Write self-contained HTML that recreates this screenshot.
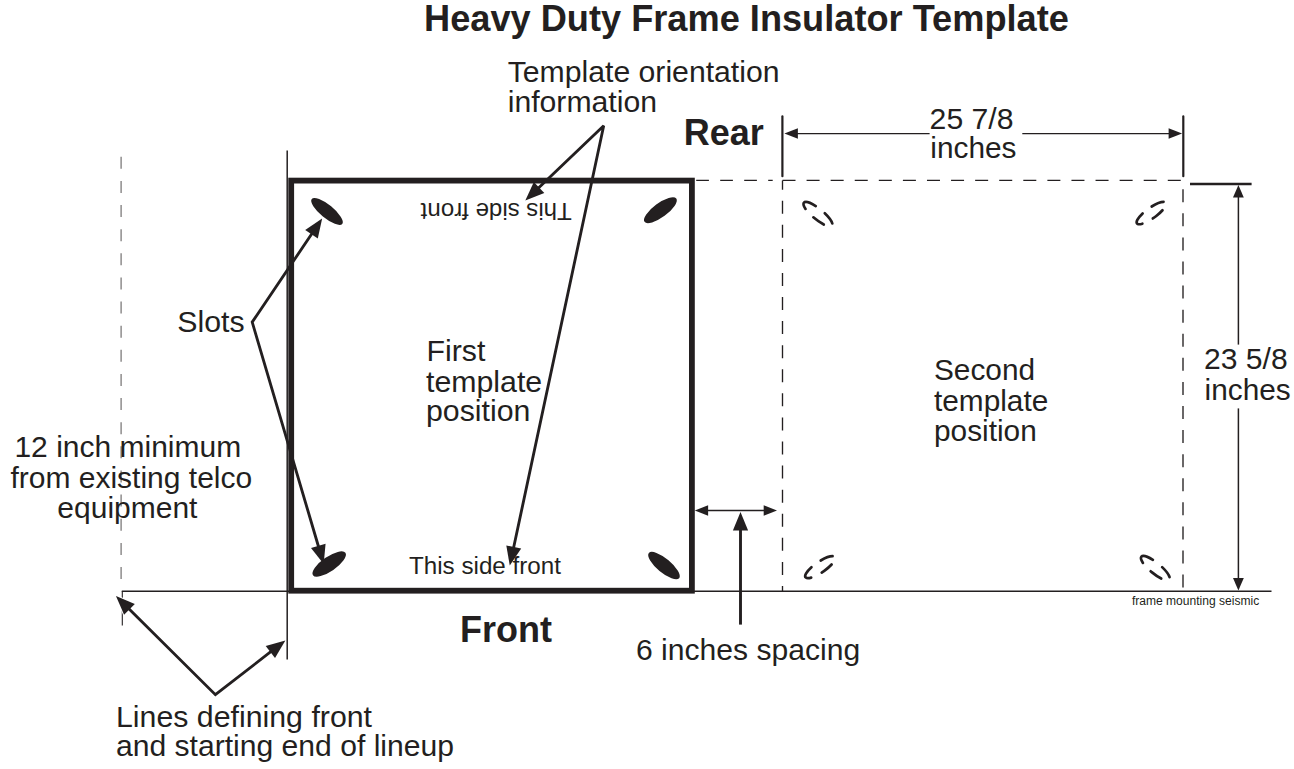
<!DOCTYPE html>
<html><head><meta charset="utf-8"><style>
html,body{margin:0;padding:0;background:#fff;}
svg{display:block;}
text{font-family:"Liberation Sans",sans-serif;}
</style></head><body>
<svg width="1294" height="769" viewBox="0 0 1294 769">
<rect width="1294" height="769" fill="#fff"/>
<line x1="121.1" y1="156.8" x2="121.1" y2="591" stroke="#7d7b7b" stroke-width="1.3" stroke-dasharray="12 12.13"/>
<line x1="122.3" y1="591" x2="122.3" y2="625.5" stroke="#231f20" stroke-width="1.1" />
<line x1="287.2" y1="150.4" x2="287.2" y2="659.6" stroke="#231f20" stroke-width="1.5" />
<line x1="121.8" y1="591.3" x2="1271.5" y2="591.3" stroke="#231f20" stroke-width="1.5" />
<rect x="291.2" y="180.6" width="400.7" height="410.1" fill="none" stroke="#231f20" stroke-width="5.8"/>
<line x1="696.2" y1="180.4" x2="772.7" y2="180.4" stroke="#231f20" stroke-width="1.3" stroke-dasharray="12.7 11.3"/>
<path d="M782.5,180.4 H1183 V591" fill="none" stroke="#231f20" stroke-width="1.35" stroke-dasharray="13 11.08"/>
<path d="M782.5,591 V180.4" fill="none" stroke="#231f20" stroke-width="1.35" stroke-dasharray="13 11.08" stroke-dashoffset="8"/>
<line x1="782.4" y1="116.4" x2="782.4" y2="176.2" stroke="#231f20" stroke-width="2.2" stroke-linecap="round"/>
<line x1="1183.3" y1="116.4" x2="1183.3" y2="176.2" stroke="#231f20" stroke-width="2.2" stroke-linecap="round"/>
<line x1="790" y1="133.6" x2="929.6" y2="133.6" stroke="#231f20" stroke-width="1.3" />
<line x1="1022.3" y1="133.6" x2="1175" y2="133.6" stroke="#231f20" stroke-width="1.3" />
<polygon points="784.40,133.60 797.90,128.35 797.90,138.85" fill="#231f20"/>
<polygon points="1182.10,133.60 1168.60,138.85 1168.60,128.35" fill="#231f20"/>
<line x1="1190" y1="183.9" x2="1251.6" y2="183.9" stroke="#231f20" stroke-width="2.5" />
<line x1="1238.4" y1="190" x2="1238.4" y2="344.6" stroke="#231f20" stroke-width="1.5" />
<line x1="1238.4" y1="408.4" x2="1238.4" y2="585" stroke="#231f20" stroke-width="1.5" />
<polygon points="1238.40,185.10 1243.80,197.60 1233.00,197.60" fill="#231f20"/>
<polygon points="1238.40,590.60 1233.00,578.10 1243.80,578.10" fill="#231f20"/>
<line x1="700" y1="510.5" x2="772" y2="510.5" stroke="#231f20" stroke-width="1.5" />
<polygon points="694.80,510.50 708.10,505.30 708.10,515.70" fill="#231f20"/>
<polygon points="777.00,510.50 763.70,515.70 763.70,505.30" fill="#231f20"/>
<line x1="740.5" y1="525" x2="740.5" y2="624.6" stroke="#231f20" stroke-width="2.9" />
<polygon points="740.50,511.90 748.10,530.40 732.90,530.40" fill="#231f20"/>
<path d="M536.90,189.47 L603.70,125.80 L513.12,549.94" fill="none" stroke="#231f20" stroke-width="2.85" stroke-linejoin="miter" stroke-miterlimit="3"/><polygon points="525.32,200.51 533.83,181.90 544.31,192.91" fill="#231f20"/><polygon points="509.77,565.59 506.31,545.42 521.18,548.59" fill="#231f20"/>
<path d="M313.18,231.76 L252.20,322.10 L319.14,548.73" fill="none" stroke="#231f20" stroke-width="2.85" stroke-linejoin="miter" stroke-miterlimit="3"/><polygon points="322.14,218.50 317.80,238.50 305.21,230.00" fill="#231f20"/><polygon points="323.67,564.08 311.00,548.01 325.58,543.70" fill="#231f20"/>
<polygon points="115.97,595.98 134.81,603.97 124.10,614.76" fill="#fff" stroke="#fff" stroke-width="2" stroke-linejoin="miter"/><path d="M127.33,607.25 L215.40,694.70 L272.73,650.24" fill="none" stroke="#231f20" stroke-width="2.85" stroke-linejoin="miter" stroke-miterlimit="3"/><polygon points="115.97,595.98 134.81,603.97 124.10,614.76" fill="#231f20"/><polygon points="285.37,640.43 275.02,658.08 265.70,646.07" fill="#231f20"/>
<ellipse cx="327" cy="211.4" rx="19.7" ry="6.5" transform="rotate(39.3 327 211.4)" fill="#231f20"/>
<ellipse cx="660.4" cy="210.2" rx="19.7" ry="7.0" transform="rotate(-36.3 660.4 210.2)" fill="#231f20"/>
<ellipse cx="329.2" cy="564.0" rx="19.7" ry="7.2" transform="rotate(-34.5 329.2 564.0)" fill="#231f20"/>
<ellipse cx="664" cy="565.6" rx="19.7" ry="7.0" transform="rotate(39.8 664 565.6)" fill="#231f20"/>
<path d="M804.21,202.28 A18.29,5.34 39.46 0 1 831.69,226.20 A18.29,5.34 39.46 0 1 804.21,202.28" fill="none" stroke="#231f20" stroke-width="2.7" stroke-linecap="round" stroke-dasharray="12.6 11.4"/>
<path d="M1137.45,223.89 A17.79,5.38 -35.62 0 1 1165.31,202.21 A17.79,5.38 -35.62 0 1 1137.45,223.89" fill="none" stroke="#231f20" stroke-width="2.7" stroke-linecap="round" stroke-dasharray="12.6 11.4"/>
<path d="M805.83,577.52 A17.83,5.37 -34.24 0 1 834.63,556.72 A17.83,5.37 -34.24 0 1 805.83,577.52" fill="none" stroke="#231f20" stroke-width="2.7" stroke-linecap="round" stroke-dasharray="12.6 11.4"/>
<path d="M1141.41,556.69 A18.11,5.34 39.35 0 1 1169.29,579.81 A18.11,5.34 39.35 0 1 1141.41,556.69" fill="none" stroke="#231f20" stroke-width="2.7" stroke-linecap="round" stroke-dasharray="12.6 11.4"/>
<text x="424" y="30.5" font-size="36.2" font-weight="bold" text-anchor="start" fill="#231f20" >Heavy Duty Frame Insulator Template</text>
<text x="507.7" y="81.8" font-size="30.2" text-anchor="start" fill="#231f20" >Template orientation</text>
<text x="507.7" y="112.1" font-size="30.2" text-anchor="start" fill="#231f20" >information</text>
<text x="683.7" y="145.2" font-size="36" font-weight="bold" text-anchor="start" fill="#231f20" >Rear</text>
<text x="929.6" y="128.6" font-size="30.2" text-anchor="start" fill="#231f20" >25 7/8</text>
<text x="930.3" y="158.4" font-size="29.8" text-anchor="start" fill="#231f20" >inches</text>
<text x="1204" y="369.1" font-size="30.1" text-anchor="start" fill="#231f20" >23 5/8</text>
<text x="1204.6" y="399.6" font-size="29.8" text-anchor="start" fill="#231f20" >inches</text>
<text x="1131.9" y="604.8" font-size="12.07" text-anchor="start" fill="#231f20" >frame mounting seismic</text>
<text x="409" y="573.8" font-size="24.2" text-anchor="start" fill="#231f20" >This side front</text>
<g transform="rotate(180 496.15 211.4)"><text x="420.5" y="220.1" font-size="24.07" text-anchor="start" fill="#231f20" >This side front</text></g>
<text x="177.3" y="332" font-size="30.3" text-anchor="start" fill="#231f20" >Slots</text>
<text x="426.5" y="360.8" font-size="30.3" text-anchor="start" fill="#231f20" >First</text>
<text x="426" y="391.5" font-size="30.3" text-anchor="start" fill="#231f20" >template</text>
<text x="426" y="421" font-size="30.3" text-anchor="start" fill="#231f20" >position</text>
<text x="934" y="380.4" font-size="29.8" text-anchor="start" fill="#231f20" >Second</text>
<text x="934" y="410.5" font-size="29.8" text-anchor="start" fill="#231f20" >template</text>
<text x="934" y="440.7" font-size="29.8" text-anchor="start" fill="#231f20" >position</text>
<text x="127.8" y="457.1" font-size="30" text-anchor="middle" fill="#231f20" >12 inch minimum</text>
<text x="131.3" y="488.3" font-size="30" text-anchor="middle" fill="#231f20" >from existing telco</text>
<text x="127.4" y="517.6" font-size="30" text-anchor="middle" fill="#231f20" >equipment</text>
<text x="460" y="642" font-size="36" font-weight="bold" text-anchor="start" fill="#231f20" >Front</text>
<text x="636" y="659.5" font-size="30.1" text-anchor="start" fill="#231f20" >6 inches spacing</text>
<text x="116" y="726.6" font-size="30.3" text-anchor="start" fill="#231f20" >Lines defining front</text>
<text x="116" y="756.3" font-size="30.1" text-anchor="start" fill="#231f20" >and starting end of lineup</text>
</svg>
</body></html>
